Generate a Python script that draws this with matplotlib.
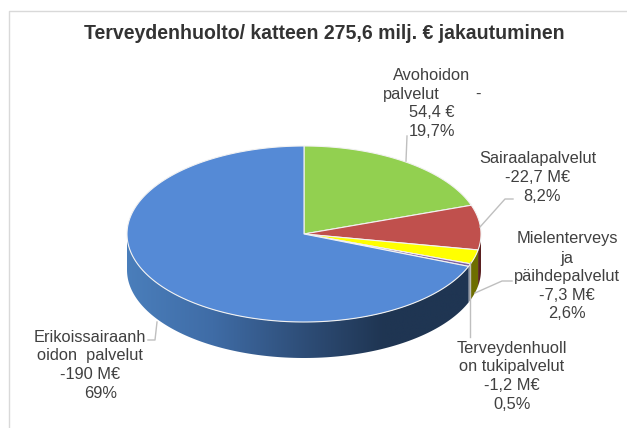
import matplotlib
matplotlib.use("Agg")
import matplotlib.pyplot as plt
import numpy as np

plt.rcParams["font.family"] = ["Liberation Sans", "DejaVu Sans"]

title = "Terveydenhuolto/ katteen 275,6 milj. € jakautuminen"
shares = [19.7, 8.2, 2.6, 0.5, 69.0]
top_colors = ["#92d050", "#c0504d", "#ffff00", "#8064a2", "#558ad6"]
side_colors = ["#5f8a35", "#5a2020", "#6e6e00", "#8a8f9a", "#4a7ebb"]

label_lines = [
    ("Avohoidon", 432, 74), ("palvelut", 411, 93), ("-", 478, 93),
    ("54,4 €", 432, 111), ("19,7%", 432, 130),
    ("Sairaalapalvelut", 538, 157), ("-22,7 M€", 538, 176), ("8,2%", 542, 195),
    ("Mielenterveys", 567, 237), ("ja", 567, 257), ("päihdepalvelut", 567, 275),
    ("-7,3 M€", 567, 294), ("2,6%", 567, 312),
    ("Terveydenhuoll", 512, 347), ("on tukipalvelut", 512, 365),
    ("-1,2 M€", 512, 384), ("0,5%", 512, 403),
    ("Erikoissairaanh", 90, 336), ("oidon  palvelut", 90, 354),
    ("-190 M€", 90, 373), ("69%", 101, 392),
]
leaders = [
    ([406, 407], [161, 136]),
    ([480, 505, 513], [227, 199, 199]),
    ([475, 502, 512], [293, 281, 281]),
    ([470, 470], [262, 337]),
    ([157, 155, 148], [322, 340, 340]),
]

cx, cy, rx, ry, depth = 304, 234, 177, 88, 36


def rim(t):
    return cx + rx * np.sin(t), cy - ry * np.cos(t)


fig = plt.figure(figsize=(6.27, 4.28), dpi=100)
ax = fig.add_axes([0, 0, 1, 1])
ax.set_xlim(0, 627)
ax.set_ylim(428, 0)
ax.axis("off")

# frame of the pasted chart, left and top
ax.plot([8.5, 8.5, 627], [428, 10.5, 10.5], color="#d9d9d9", lw=1)

edges = np.radians(np.cumsum([0] + shares) * 3.6)

# side wall, only the part facing the viewer
for i in range(len(shares)):
    a = max(edges[i], np.pi / 2)
    b = min(edges[i + 1], 3 * np.pi / 2)
    if b <= a:
        continue
    t = np.linspace(a, b, 120)
    x, y = rim(t)
    px = np.r_[x, x[::-1]]
    py = np.r_[y, y[::-1] + depth]
    if i == 4:
        # blue wall has a dark to light gradient
        poly = ax.fill(px, py, color="none")[0]
        grad = np.linspace(0, 1, 256).reshape(1, -1)
        cmap = matplotlib.colors.LinearSegmentedColormap.from_list(
            "side", ["#4a7ebb", "#3f6ca6", "#2f4f7a", "#1f3552", "#1f3552"])
        im = ax.imshow(grad, extent=[127, 470, 359, 230], cmap=cmap, aspect="auto", zorder=1)
        im.set_clip_path(poly)
    else:
        ax.fill(px, py, color=side_colors[i], lw=0, zorder=1)

ax.set_xlim(0, 627)
ax.set_ylim(428, 0)

# top face
for i in range(len(shares)):
    t = np.linspace(edges[i], edges[i + 1], 200)
    x, y = rim(t)
    ax.fill(np.r_[cx, x], np.r_[cy, y], facecolor=top_colors[i],
            edgecolor="#f2f2f2", lw=0.8, zorder=2)

for lx, ly in leaders:
    ax.plot(lx, ly, color="#bfbfbf", lw=1, zorder=3)

for s, x, y in label_lines:
    ax.text(x, y + 1.5, s, ha="center", va="center", fontsize=11.8, color="#404040", zorder=4)

ax.text(324.5, 33, title, ha="center", va="center", fontsize=14.05,
        fontweight="bold", color="#333333")

fig.savefig("out.png", dpi=100)
